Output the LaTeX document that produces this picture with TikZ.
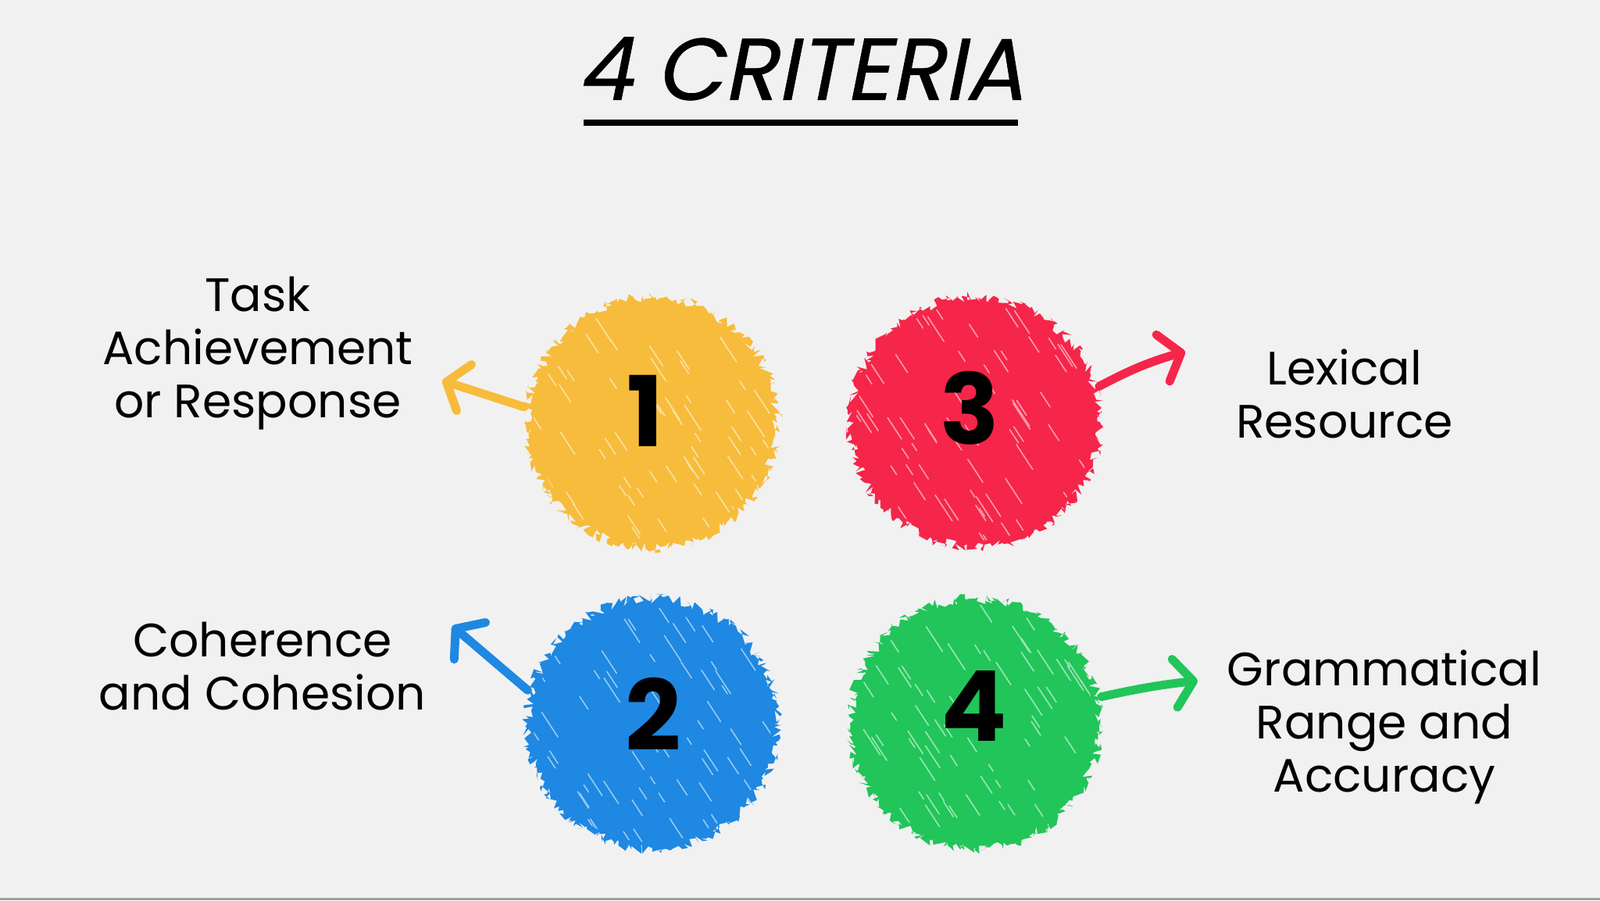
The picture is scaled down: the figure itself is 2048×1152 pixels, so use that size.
\documentclass[tikz,border=0pt]{standalone}
\usepackage{fontspec}
\setmainfont{Poppins}
\newfontfamily\titlefont{Poppins}[FakeSlant=0.2,FakeBold=0.6]
\usetikzlibrary{arrows.meta,decorations.pathmorphing}
\definecolor{bg}{HTML}{F1F1F1}
\definecolor{cyel}{HTML}{F7BC3B}
\definecolor{cred}{HTML}{F6254A}
\definecolor{cblue}{HTML}{1E88E2}
\definecolor{cgreen}{HTML}{21C55A}
\newcommand{\scrib}[4]{%
  \fill[#3,decorate,decoration={random steps,segment length=2.5pt,amplitude=7pt}] (#1,#2) circle (160);
  \begin{scope}
    \clip (#1,#2) circle (152);
    \pgfmathsetseed{#4}
    \foreach \k in {1,...,70}{%
      \pgfmathsetmacro\rx{#1+rand*155}%
      \pgfmathsetmacro\ry{#2+rand*155}%
      \pgfmathsetmacro\ln{10+rnd*30}%
      \draw[white!55!#3,line width=1.6pt,line cap=round] (\rx,\ry) -- ++(0.55*\ln,0.84*\ln);
    }
  \end{scope}}
\begin{document}
\begin{tikzpicture}[x=1pt,y=-1pt,
  spot/.style={circle,minimum size=330pt,inner sep=0pt},
  digit/.style={font=\fontsize{125}{125}\selectfont\bfseries,inner sep=0pt},
  lbl/.style={align=center,font=\fontsize{60}{68}\selectfont,inner sep=0pt},
  arr/.style={line width=11pt,line cap=round,line join=round,-{Straight Barb[length=24pt,width=62pt,round]}}]
\fill[bg] (0,0) rectangle (2048,1152);
\fill[gray!75] (0,1149) rectangle (2048,1152);
\useasboundingbox (0,0) rectangle (2048,1152);
% title
\node[font=\titlefont\fontsize{112}{112}\selectfont,inner sep=0pt] (title) at (1025,88) {4 CRITERIA};
\coordinate (ul1) at (747,157);
\coordinate (ul2) at (1303,157);
\draw[line width=8pt] (ul1) -- (ul2);
% scribbled spots
\scrib{835}{541}{cyel}{11}
\scrib{1248}{540}{cred}{23}
\scrib{835}{926}{cblue}{37}
\scrib{1248}{926}{cgreen}{41}
\node[spot] (c1) at (835,541) {};
\node[spot] (c3) at (1248,540) {};
\node[spot] (c2) at (835,926) {};
\node[spot] (c4) at (1248,926) {};
\node[digit] (n1) at (826,526) {1};
\node[digit] (n3) at (1241,522) {3};
\node[digit] (n2) at (836,914) {2};
\node[digit] (n4) at (1247,903) {4};
% labels
\node[lbl] (t1) at (330,452) {Task\\Achievement\\or Response};
\node[lbl] (t3) at (1721,504) {Lexical\\Resource};
\node[lbl] (t2) at (336,853) {Coherence\\and Cohesion};
\node[lbl] (t4) at (1772,930) {Grammatical\\Range and\\Accuracy};
% arrows
\coordinate (a1) at (566,487);
\coordinate (a3) at (1517,450);
\coordinate (a2) at (579,801);
\coordinate (a4) at (1533,871);
\draw[arr,cyel] (c1.173) -- (a1);
\draw[arr,cred] (c3.16) to[bend left=6] (a3);
\draw[arr,cblue] (c2.165) -- (a2);
\draw[arr,cgreen] (c4.12) to[bend left=3] (a4);
\end{tikzpicture}
\end{document}
